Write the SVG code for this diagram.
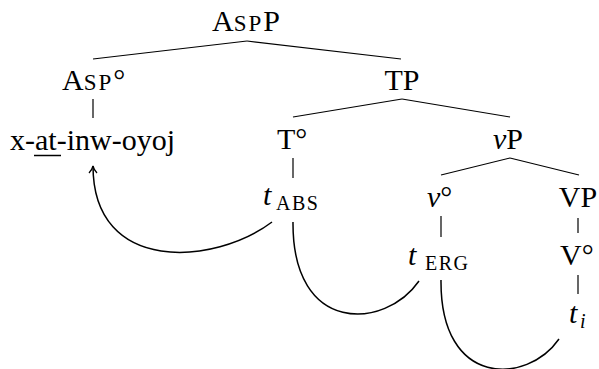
<svg xmlns="http://www.w3.org/2000/svg" width="599" height="369" viewBox="0 0 599 369">
<defs>
<style>
text{font-family:'Liberation Serif','Times New Roman',serif;font-size:30px;fill:#000}
.it{font-style:italic}
.sc{font-size:23px;letter-spacing:2px}
.sub{font-size:20px;letter-spacing:1.5px}
.edge{stroke:#000;stroke-width:1.2;fill:none}
.mv{stroke:#000;stroke-width:1.5;fill:none}
</style>
<marker id="arr" viewBox="0 0 10 10" refX="9" refY="5" markerWidth="10" markerHeight="10" markerUnits="userSpaceOnUse" orient="auto">
<path d="M2,1 Q5,4 9,5 Q5,6 2,9" fill="none" stroke="#000" stroke-width="1.3"/>
</marker>
</defs>
<g id="edges">
<line class="edge" x1="247" y1="41" x2="93" y2="59"/>
<line class="edge" x1="247" y1="41" x2="401" y2="59"/>
<line class="edge" x1="93" y1="99" x2="93" y2="118"/>
<line class="edge" x1="402" y1="99" x2="293" y2="117"/>
<line class="edge" x1="402" y1="99" x2="510" y2="117"/>
<line class="edge" x1="293" y1="158" x2="293" y2="178"/>
<line class="edge" x1="510" y1="158" x2="441" y2="175"/>
<line class="edge" x1="510" y1="158" x2="579" y2="175"/>
<line class="edge" x1="441" y1="216" x2="441" y2="237"/>
<line class="edge" x1="578" y1="218" x2="578" y2="233"/>
<line class="edge" x1="578" y1="275" x2="578" y2="294"/>
</g>
<g id="movement">
<path class="mv" d="M272,222 C215,265 93,275 93,166" marker-end="url(#arr)"/>
<path class="mv" d="M293,222 C292,335 385,330 419,281"/>
<path class="mv" d="M441,280 C440,388 527,385 559,339"/>
</g>
<g id="n-AspP"><text x="212" y="31">A<tspan class="sc">SP</tspan>P</text></g>
<g id="n-Asp0"><text x="62" y="90">A<tspan class="sc">SP</tspan>°</text></g>
<g id="n-verb"><text x="10" y="150" textLength="165" lengthAdjust="spacing">x-at-inw-oyoj</text>
<line x1="34" y1="155.5" x2="61" y2="155.5" stroke="#000" stroke-width="1.5"/></g>
<g id="n-TP"><text x="402" y="90" text-anchor="middle">TP</text></g>
<g id="n-T0"><text x="277" y="149">T°</text></g>
<g id="n-vP"><text x="493" y="149"><tspan class="it">v</tspan>P</text></g>
<g id="n-tABS"><text x="263" y="205" class="it">t</text><text x="276" y="210" class="sub">ABS</text></g>
<g id="n-v0"><text x="427" y="207"><tspan class="it">v</tspan>°</text></g>
<g id="n-VP"><text x="578" y="207" text-anchor="middle">VP</text></g>
<g id="n-tERG"><text x="408" y="265" class="it">t</text><text x="425" y="270" class="sub">ERG</text></g>
<g id="n-V0"><text x="560" y="265">V°</text></g>
<g id="n-ti"><text x="569" y="323" class="it">t</text><text x="580" y="328" class="it" style="font-size:20px">i</text></g>
</svg>
